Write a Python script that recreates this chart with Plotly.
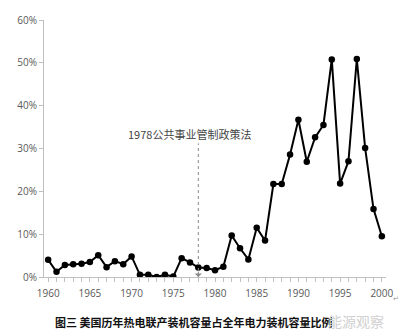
import plotly.graph_objects as go

years = list(range(1960, 2001))
share = [4.0, 1.2, 2.8, 3.0, 3.1, 3.5, 5.1, 2.3, 3.7, 3.0,
         4.8, 0.5, 0.5, 0.0, 0.5, 0.1, 4.4, 3.4, 2.2, 2.1,
         1.6, 2.4, 9.7, 6.7, 4.1, 11.5, 8.5, 21.7, 21.7, 28.6,
         36.7, 26.9, 32.6, 35.5, 50.8, 21.8, 27.0, 50.9, 30.1, 15.9,
         9.5]
share = [v / 100 for v in share]

ytick_vals = [0, 0.1, 0.2, 0.3, 0.4, 0.5, 0.6]
ytick_text = ["0%", "10%", "20%", "30%", "40%", "50%", "60%"]
xtick_text = [str(y) if y % 5 == 0 else "" for y in years]

event_year = 1978
event_label = "1978公共事业管制政策法"
caption = "图三 美国历年热电联产装机容量占全年电力装机容量比例"
watermark = "能源观察"

fig = go.Figure()
fig.add_trace(go.Scatter(
    x=years, y=share, mode="lines+markers",
    line=dict(color="black", width=2),
    marker=dict(color="black", size=6.5),
    showlegend=False, hoverinfo="skip",
))

# dotted vertical event line
fig.add_shape(type="line", x0=event_year, x1=event_year, xref="x",
              y0=0.0, y1=0.312, yref="y",
              line=dict(color="#888888", width=1, dash="dot"))
fig.add_annotation(x=event_year, y=0.0, xref="x", yref="y",
                   ax=0, ay=-7, showarrow=True, arrowhead=1,
                   arrowsize=1.2, arrowwidth=1, arrowcolor="#888888", text="")
fig.add_annotation(x=1976.9, y=0.334, xref="x", yref="y", text=event_label,
                   showarrow=False,
                   font=dict(family="Noto Sans CJK SC", size=11, color="#444444"))

fig.add_annotation(x=0.44, y=-0.175, xref="paper", yref="paper", text="<b>" + caption + "</b>",
                   showarrow=False, yanchor="middle", xanchor="center",
                   font=dict(family="Noto Sans CJK SC", size=11, color="#111111"))
fig.add_annotation(x=1.0, y=-0.172, xref="paper", yref="paper", text=watermark,
                   showarrow=False, yanchor="middle", xanchor="right",
                   font=dict(family="Noto Sans CJK SC", size=14, color="#d0d0d0"))
fig.add_annotation(x=1.045, y=-0.085, xref="paper", yref="paper", text="↵",
                   showarrow=False, yanchor="middle",
                   font=dict(family="DejaVu Sans", size=7, color="#999999"))

fig.update_layout(
    width=410, height=336,
    margin=dict(l=44, r=24, t=20, b=59),
    paper_bgcolor="white", plot_bgcolor="white",
    font=dict(family="Open Sans", size=10, color="#595959"),
    xaxis=dict(range=[1959.5, 2000.5], tickmode="array", tickvals=years,
               ticktext=xtick_text, ticks="outside", ticklen=4, tickcolor="#bfbfbf",
               showline=True, linecolor="#bfbfbf", linewidth=1, showgrid=False,
               zeroline=False, tickangle=0, ticklabelstandoff=3),
    yaxis=dict(range=[0, 0.6], tickmode="array", tickvals=ytick_vals,
               ticktext=ytick_text, ticks="outside", ticklen=4, tickcolor="#bfbfbf",
               showline=True, linecolor="#bfbfbf", linewidth=1, showgrid=False,
               zeroline=False),
)

fig.write_html("out.html")
